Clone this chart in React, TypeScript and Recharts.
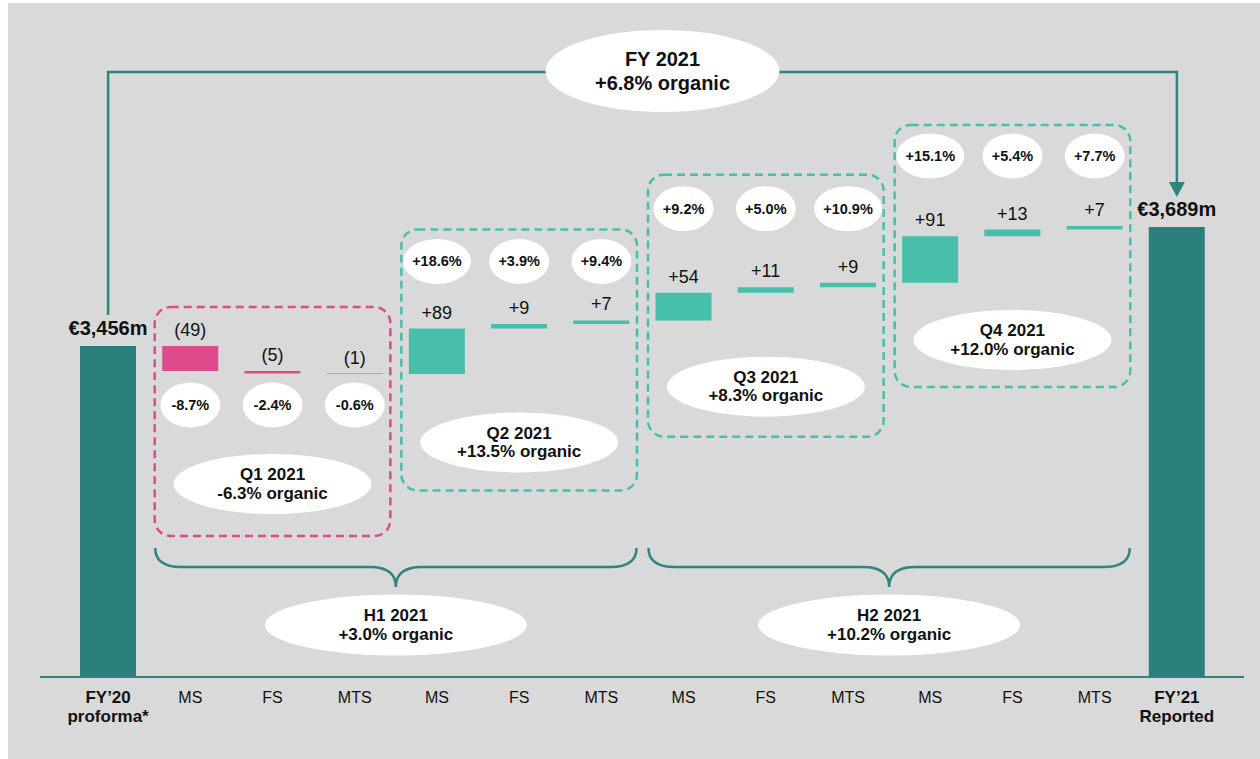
import React from 'react';
import { BarChart, Bar, XAxis, YAxis, Cell, LabelList, ReferenceArea } from 'recharts';

// Revenue bridge, FY'20 proforma -> FY'21 reported (€m)
const START_TOTAL = 3456;
const END_TOTAL = 3689;
const startTick = ['FY’20', 'proforma*'];
const endTick = ['FY’21', 'Reported'];
const divisions = ['MS', 'FS', 'MTS'];
const deltas = [-49, -5, -1, 89, 9, 7, 54, 11, 9, 91, 13, 7];
const divisionGrowth = [
  '-8.7%', '-2.4%', '-0.6%',
  '+18.6%', '+3.9%', '+9.4%',
  '+9.2%', '+5.0%', '+10.9%',
  '+15.1%', '+5.4%', '+7.7%',
];
const quarters = ['Q1 2021', 'Q2 2021', 'Q3 2021', 'Q4 2021'];
const quarterGrowth = ['-6.3% organic', '+13.5% organic', '+8.3% organic', '+12.0% organic'];
const halves = ['H1 2021', 'H2 2021'];
const halfGrowth = ['+3.0% organic', '+10.2% organic'];
const yearLabel = 'FY 2021';
const yearGrowth = '+6.8% organic';

// broken value axis: bars start at the floor, not at zero
const Y_FLOOR = 2808;
const Y_CEIL = 4055;

const TEAL_DARK = '#2c807c';
const TEAL = '#47bfaa';
const PINK = '#dc4b8c';
const LINE = '#2e8580';
const TEXT = '#111111';
const FONT = 'Liberation Sans, Arial, sans-serif';

type Row = {
  id: string;
  low: number;
  high: number;
  color: string;
  label: string;
  total: boolean;
  tick: string[];
};

const money = (v: number) => `€${v.toLocaleString('en-US')}m`;

const rows: Row[] = [];
rows.push({
  id: 'start', low: Y_FLOOR, high: START_TOTAL, color: TEAL_DARK,
  label: money(START_TOTAL), total: true, tick: startTick,
});
const levels: number[] = [START_TOTAL];
deltas.forEach((d, i) => {
  const prev = levels[levels.length - 1];
  const next = prev + d;
  rows.push({
    id: `step${i}`,
    low: Math.min(prev, next),
    high: Math.max(prev, next),
    color: d < 0 ? PINK : TEAL,
    label: d < 0 ? `(${-d})` : `+${d}`,
    total: false,
    tick: [divisions[i % 3]],
  });
  levels.push(next);
});
rows.push({
  id: 'end', low: Y_FLOOR, high: END_TOTAL, color: TEAL_DARK,
  label: money(END_TOTAL), total: true, tick: endTick,
});

// pixel offsets from the top of each quarter's highest bar
const quarterLayout = [
  { top: -39, bottom: 190, pct: 59, badge: 138 },
  { top: -91, bottom: 170, pct: -59, badge: 122 },
  { top: -108, bottom: 154, pct: -74, badge: 104 },
  { top: -101, bottom: 161, pct: -70, badge: 114 },
];

const AxisTick = (props: any) => {
  const { x, y, payload } = props;
  const row = rows.find((r) => r.id === payload.value);
  if (!row) return null;
  return (
    <g>
      {row.tick.map((t, i) => (
        <text
          key={i}
          x={x}
          y={y + 20 + i * 19}
          textAnchor="middle"
          dominantBaseline="central"
          fontFamily={FONT}
          fontSize={row.total ? 17 : 16}
          fontWeight={row.total ? 700 : 400}
          fill={TEXT}
        >
          {t}
        </text>
      ))}
    </g>
  );
};

const BarLabel = (props: any) => {
  const vb = props.viewBox || props;
  const x = vb.x ?? props.x;
  const y = vb.y ?? props.y;
  const width = vb.width ?? props.width;
  const text = String(props.value);
  const total = text.startsWith('€');
  return (
    <text
      x={x + width / 2}
      y={y - (total ? 18 : 16)}
      textAnchor="middle"
      dominantBaseline="central"
      fontFamily={FONT}
      fontSize={total ? 20 : 18}
      fontWeight={total ? 700 : 400}
      fill={TEXT}
    >
      {text}
    </text>
  );
};

const Badge = ({ cx, cy, rx, ry, lines, size, gap }: any) => (
  <g>
    <ellipse cx={cx} cy={cy} rx={rx} ry={ry} fill="#ffffff" />
    {lines.map((t: string, i: number) => (
      <text
        key={i}
        x={cx}
        y={cy + (i - (lines.length - 1) / 2) * gap}
        textAnchor="middle"
        dominantBaseline="central"
        fontFamily={FONT}
        fontSize={size}
        fontWeight={700}
        fill={TEXT}
      >
        {t}
      </text>
    ))}
  </g>
);

const QuarterBox = (props: any) => {
  const { x, y, width, q } = props;
  const lay = quarterLayout[q];
  const color = q === 0 ? PINK : TEAL;
  const band = width / 3;
  const top = y + lay.top;
  const bottom = y + lay.bottom;
  return (
    <g>
      <rect
        x={x + 5.5}
        y={top}
        width={width - 11}
        height={bottom - top}
        rx={16}
        ry={16}
        fill="none"
        stroke={color}
        strokeWidth={2.5}
        strokeDasharray="8 5"
      />
      {[0, 1, 2].map((k) => {
        const label = divisionGrowth[q * 3 + k];
        return (
          <Badge
            key={k}
            cx={x + band * (k + 0.5)}
            cy={y + lay.pct}
            rx={label.length > 5 ? 34 : 30}
            ry={22.5}
            lines={[label]}
            size={14.5}
            gap={0}
          />
        );
      })}
      <Badge
        cx={x + width / 2}
        cy={y + lay.badge}
        rx={99}
        ry={30}
        lines={[quarters[q], quarterGrowth[q]]}
        size={17}
        gap={18.5}
      />
    </g>
  );
};

const HalfBrace = (props: any) => {
  const { x, y, width, height, h } = props;
  const base = y + height;
  const x0 = x + 6;
  const x1 = x + width - 6;
  const c = x + width / 2;
  const yEnd = base - 129;
  const yMid = base - 110;
  const yTip = base - 90;
  const r = 26;
  const d = [
    `M${x0},${yEnd}`,
    `Q${x0},${yMid} ${x0 + r},${yMid}`,
    `L${c - r},${yMid}`,
    `Q${c},${yMid} ${c},${yTip}`,
    `Q${c},${yMid} ${c + r},${yMid}`,
    `L${x1 - r},${yMid}`,
    `Q${x1},${yMid} ${x1},${yEnd}`,
  ].join(' ');
  return (
    <g>
      <path d={d} fill="none" stroke={LINE} strokeWidth={2.5} />
      <Badge
        cx={c}
        cy={base - 52}
        rx={131}
        ry={30.5}
        lines={[halves[h], halfGrowth[h]]}
        size={17}
        gap={19}
      />
    </g>
  );
};

const CONNECTOR_Y = 72;

const YearConnector = (props: any) => {
  const { x, y, width, height } = props;
  const band = width / rows.length;
  const left = x + band / 2;
  const right = x + width - band / 2;
  const startTop = y + height;
  const endTop = y;
  const tip = endTop - 30;
  return (
    <g>
      <path
        d={`M${left},${startTop - 31} L${left},${CONNECTOR_Y} L${right},${CONNECTOR_Y} L${right},${tip - 14}`}
        fill="none"
        stroke={LINE}
        strokeWidth={2.5}
      />
      <path d={`M${right - 8},${tip - 15} L${right + 8},${tip - 15} L${right},${tip} Z`} fill={LINE} />
      <Badge
        cx={(left + right) / 2 + 20}
        cy={CONNECTOR_Y - 1}
        rx={117}
        ry={41}
        lines={[yearLabel, yearGrowth]}
        size={20}
        gap={24}
      />
    </g>
  );
};

export default function App() {
  return (
    <div style={{ position: 'absolute', left: 0, top: 0, width: 1260, height: 759, background: '#ffffff' }}>
      <div style={{ position: 'absolute', left: 8, top: 3, right: 0, bottom: 0, background: '#d9d9d9' }} />
      <div style={{ position: 'absolute', left: 0, top: 0 }}>
        <BarChart
          width={1260}
          height={759}
          data={rows}
          margin={{ top: 40, right: 16, bottom: 22, left: 40 }}
          barSize={56}
        >
          <XAxis
            dataKey="id"
            type="category"
            interval={0}
            height={60}
            padding={{ left: 27, right: 26 }}
            axisLine={{ stroke: LINE, strokeWidth: 2 }}
            tickLine={false}
            tickSize={0}
            tickMargin={0}
            tick={<AxisTick />}
          />
          <YAxis hide type="number" domain={[Y_FLOOR, Y_CEIL]} allowDataOverflow />
          <ReferenceArea
            x1="start"
            x2="end"
            y1={START_TOTAL}
            y2={END_TOTAL}
            ifOverflow="visible"
            shape={(p: any) => <YearConnector {...p} />}
          />
          {halves.map((_, h) => (
            <ReferenceArea
              key={`half${h}`}
              x1={`step${h * 6}`}
              x2={`step${h * 6 + 5}`}
              ifOverflow="visible"
              shape={(p: any) => <HalfBrace {...p} h={h} />}
            />
          ))}
          {quarters.map((_, q) => {
            const qLevels = levels.slice(q * 3, q * 3 + 4);
            return (
              <ReferenceArea
                key={`quarter${q}`}
                x1={`step${q * 3}`}
                x2={`step${q * 3 + 2}`}
                y1={Math.min(...qLevels)}
                y2={Math.max(...qLevels)}
                ifOverflow="visible"
                shape={(p: any) => <QuarterBox {...p} q={q} />}
              />
            );
          })}
          <Bar dataKey={(r: Row) => [r.low, r.high]} isAnimationActive={false}>
            {rows.map((r) => (
              <Cell key={r.id} fill={r.color} />
            ))}
            <LabelList dataKey="label" content={BarLabel} />
          </Bar>
        </BarChart>
      </div>
    </div>
  );
}
